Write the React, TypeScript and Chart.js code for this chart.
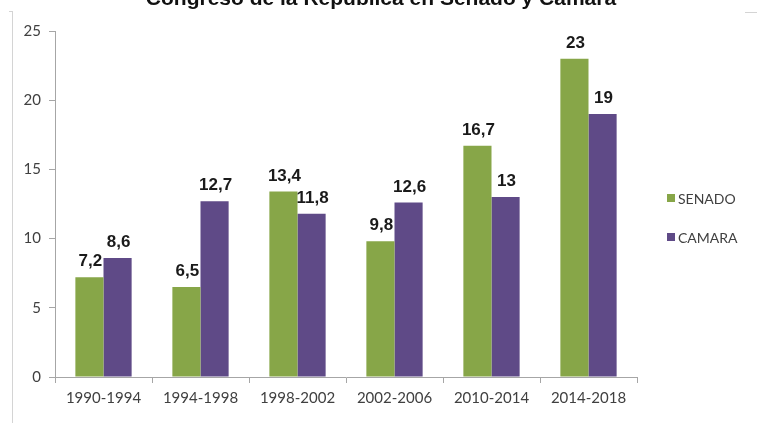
import React, { useEffect, useRef } from "react";
import { Chart, registerables } from "chart.js";

Chart.register(...registerables);

const TITLE = "Congreso de la República en Senado y Cámara";
const categories = ["1990-1994", "1994-1998", "1998-2002", "2002-2006", "2010-2014", "2014-2018"];
const senado = [7.2, 6.5, 13.4, 9.8, 16.7, 23];
const camara = [8.6, 12.7, 11.8, 12.6, 13, 19];
const seriesNames = ["SENADO", "CAMARA"];
const colors = ["#87A648", "#5F4A87"];

const fmt = (v: number) => String(v).replace(".", ",");

const decorPlugin = {
  id: "decor",
  afterDatasetsDraw(chart: any) {
    const ctx = chart.ctx;
    ctx.save();
    // data labels
    ctx.font = "bold 17px 'Liberation Sans', Arial, sans-serif";
    ctx.fillStyle = "#1a1a1a";
    ctx.textAlign = "center";
    ctx.textBaseline = "alphabetic";
    chart.data.datasets.forEach((ds: any, di: number) => {
      const meta = chart.getDatasetMeta(di);
      meta.data.forEach((bar: any, i: number) => {
        ctx.fillText(fmt(ds.data[i]), bar.x + 1, bar.y - 11);
      });
    });
    // title (cut off at top)
    ctx.font = "bold 21px 'Liberation Sans', Arial, sans-serif";
    ctx.fillStyle = "#111";
    ctx.fillText(TITLE, 381, 5);
    // legend
    ctx.font = "14px Lato, 'Liberation Sans', sans-serif";
    ctx.textAlign = "left";
    ctx.textBaseline = "middle";
    const ys = [198, 237];
    seriesNames.forEach((n, i) => {
      ctx.fillStyle = colors[i];
      ctx.fillRect(667, ys[i] - 4, 8, 8);
      ctx.fillStyle = "#404040";
      ctx.fillText(n, 678, ys[i] + 1);
    });
    // frame
    ctx.strokeStyle = "#d4d4d4";
    ctx.lineWidth = 1;
    ctx.beginPath();
    ctx.moveTo(12.5, 11);
    ctx.lineTo(12.5, 423);
    ctx.moveTo(9, 11.5);
    ctx.lineTo(13, 11.5);
    ctx.moveTo(745, 12.5);
    ctx.lineTo(757, 12.5);
    ctx.stroke();
    ctx.restore();
  },
};

export default function App() {
  const ref = useRef<HTMLCanvasElement>(null);
  useEffect(() => {
    document.body.style.margin = "0";
    const chart = new Chart(ref.current!, {
      type: "bar",
      data: {
        labels: categories,
        datasets: [
          { label: seriesNames[0], data: senado, backgroundColor: colors[0], categoryPercentage: 0.58, barPercentage: 1 },
          { label: seriesNames[1], data: camara, backgroundColor: colors[1], categoryPercentage: 0.58, barPercentage: 1 },
        ],
      },
      options: {
        animation: false,
        responsive: false,
        layout: { padding: { top: 31, right: 120, bottom: 0, left: 0 } },
        plugins: { legend: { display: false }, tooltip: { enabled: false }, title: { display: false } },
        scales: {
          x: {
            afterFit: (s: any) => { s.height = 46; },
            grid: { drawOnChartArea: false, drawTicks: true, tickLength: 6, color: "#a6a6a6", offset: true },
            border: { color: "#a6a6a6" },
            ticks: { font: { family: "Lato, 'Liberation Sans', sans-serif", size: 15 }, color: "#404040", padding: 6, maxRotation: 0 },
          },
          y: {
            min: 0,
            max: 25,
            afterFit: (s: any) => { s.width = 55; },
            grid: { drawOnChartArea: false, drawTicks: true, tickLength: 6, color: "#a6a6a6" },
            border: { color: "#a6a6a6" },
            ticks: { stepSize: 5, font: { family: "Lato, 'Liberation Sans', sans-serif", size: 15 }, color: "#404040", padding: 8 },
          },
        },
      },
      plugins: [decorPlugin],
    });
    return () => chart.destroy();
  }, []);
  return <canvas ref={ref} width={757} height={423} style={{ display: "block" }} />;
}
